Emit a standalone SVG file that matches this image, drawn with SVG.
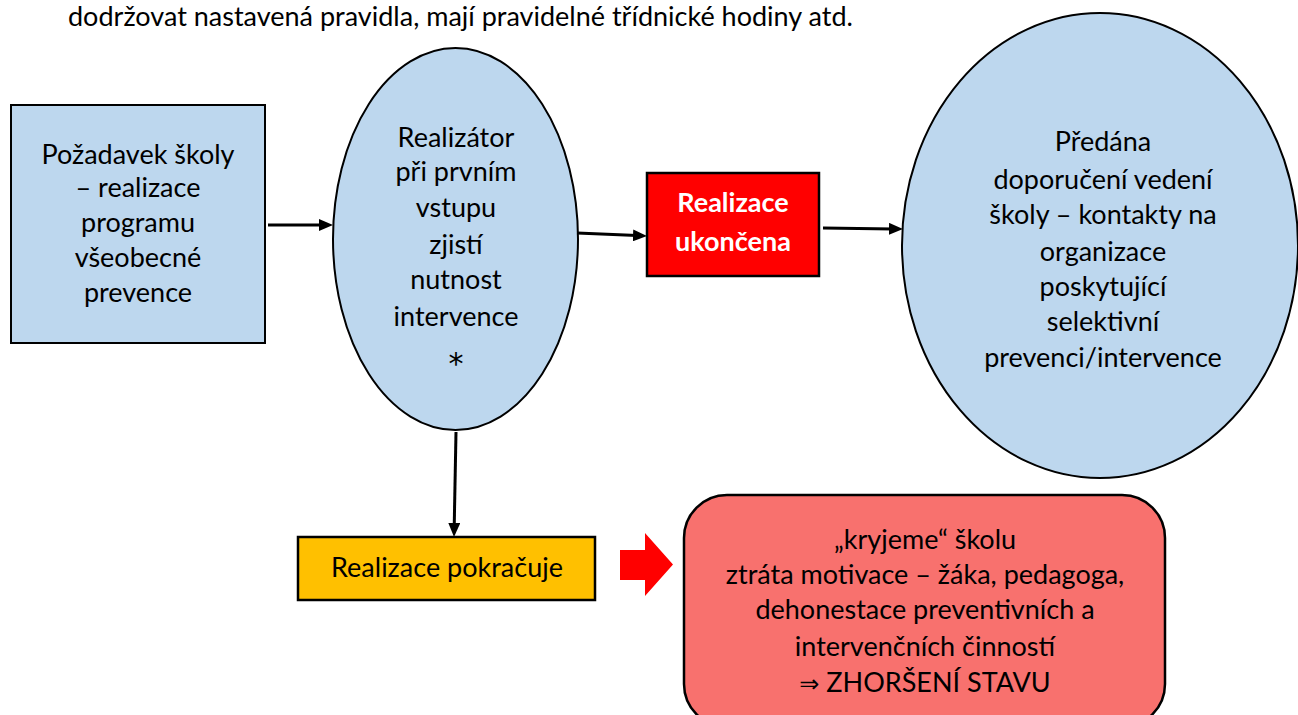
<svg xmlns="http://www.w3.org/2000/svg" width="1298" height="715" viewBox="0 0 1298 715">
<defs>
<style>
.t{font-family:Lato,"Liberation Sans","Noto Sans",sans-serif;font-size:27px;fill:#000;text-anchor:middle}
.blue{fill:#BDD7EE;stroke:#000;stroke-width:2}
.box{stroke:#000;stroke-width:2.5}
.conn{stroke:#000;stroke-width:3;fill:none}
</style>
<marker id="ah" markerUnits="userSpaceOnUse" markerWidth="14" markerHeight="12" refX="4" refY="6" orient="auto">
<path d="M0,0 L14,6 L0,12 z" fill="#000"/>
</marker>
</defs>
<rect width="1298" height="715" fill="#fff"/>
<text x="68" y="26" style="font-family:Lato,'Liberation Sans',sans-serif;font-size:27px;fill:#000">dodržovat nastavená pravidla, mají pravidelné třídnické hodiny atd.</text>

<g id="n1">
<rect class="blue" x="11" y="105" width="254" height="238" stroke-width="2.5"/>
<text class="t" x="138" y="164">Požadavek školy</text>
<text class="t" x="138" y="197">– realizace</text>
<text class="t" x="138" y="232">programu</text>
<text class="t" x="138" y="267">všeobecné</text>
<text class="t" x="138" y="302">prevence</text>
</g>

<g id="n2">
<ellipse class="blue" cx="455.5" cy="239" rx="122.5" ry="191"/>
<text class="t" x="456" y="147">Realizátor</text>
<text class="t" x="456" y="181">při prvním</text>
<text class="t" x="456" y="217">vstupu</text>
<text class="t" x="456" y="254">zjistí</text>
<text class="t" x="456" y="289">nutnost</text>
<text class="t" x="456" y="326">intervence</text>
<text x="456" y="374" style="font-family:'DejaVu Sans',sans-serif;font-size:30px;text-anchor:middle;fill:#000">*</text>
</g>

<g id="n3">
<rect class="box" x="647" y="173" width="172" height="103" fill="#FF0000"/>
<text class="t" x="733" y="212" style="fill:#fff;font-weight:bold">Realizace</text>
<text class="t" x="733" y="251" style="fill:#fff;font-weight:bold">ukončena</text>
</g>

<g id="n4">
<ellipse class="blue" cx="1100" cy="245.5" rx="198" ry="232.5"/>
<text class="t" x="1103" y="151">Předána</text>
<text class="t" x="1103" y="189">doporučení vedení</text>
<text class="t" x="1103" y="224">školy – kontakty na</text>
<text class="t" x="1103" y="261">organizace</text>
<text class="t" x="1103" y="296">poskytující</text>
<text class="t" x="1103" y="331">selektivní</text>
<text class="t" x="1103" y="367">prevenci/intervence</text>
</g>

<g id="n5">
<rect class="box" x="298" y="537" width="297" height="63" fill="#FFC000"/>
<text class="t" x="447" y="577">Realizace pokračuje</text>
</g>

<g id="n6">
<polygon points="620,550 645,550 645,533 673,564.5 645,596 645,580 620,580" fill="#FF0000"/>
</g>

<g id="n7">
<rect class="box" x="684" y="495" width="481" height="232" rx="43" ry="43" fill="#F8716E"/>
<text class="t" x="925" y="549">„kryjeme“ školu</text>
<text class="t" x="925" y="584">ztráta motivace – žáka, pedagoga,</text>
<text class="t" x="925" y="619">dehonestace preventivních a</text>
<text class="t" x="925" y="656">intervenčních činností</text>
<text class="t" x="925" y="692"><tspan style="font-family:'DejaVu Sans',sans-serif;font-size:24px">⇒</tspan> ZHORŠENÍ STAVU</text>
</g>

<g id="connectors">
<line class="conn" x1="268" y1="225" x2="323" y2="225" marker-end="url(#ah)"/>
<line class="conn" x1="577" y1="233" x2="637" y2="235.6" marker-end="url(#ah)"/>
<line class="conn" x1="823" y1="228" x2="893" y2="228.9" marker-end="url(#ah)"/>
<line class="conn" x1="456" y1="432" x2="454.2" y2="527" marker-end="url(#ah)"/>
</g>
</svg>
